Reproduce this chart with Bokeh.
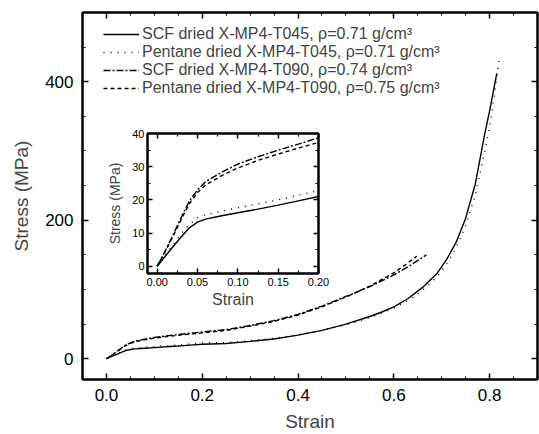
from bokeh.plotting import figure
from bokeh.models import (Range1d, FixedTicker, LinearAxis, PrintfTickFormatter,
                          Legend, LegendItem, GridBox)
from bokeh.embed import file_html
from bokeh.resources import INLINE

FONT = "Liberation Sans"

# ---- data (strain, stress MPa) ----
scf45_x = [0, 0.01, 0.02, 0.03, 0.04, 0.05, 0.06, 0.08, 0.10, 0.125, 0.15, 0.175, 0.20, 0.25, 0.30,
           0.35, 0.40, 0.45, 0.50, 0.55, 0.575, 0.60, 0.63, 0.66, 0.69, 0.71, 0.73, 0.75, 0.77, 0.79, 0.80, 0.815]
scf45_y = [0, 3.0, 6.0, 8.9, 11.6, 13.3, 14.2, 15.2, 16.1, 17.2, 18.4, 19.7, 21.0, 22.0, 25,
           28.5, 34, 41, 50, 61, 67.5, 75, 87, 103, 123, 143, 168, 203, 252, 325, 358, 412]

pen45_x = [0, 0.01, 0.02, 0.03, 0.04, 0.05, 0.06, 0.08, 0.10, 0.125, 0.15, 0.175, 0.20, 0.25, 0.30,
           0.35, 0.40, 0.45, 0.50, 0.55, 0.575, 0.60, 0.63, 0.66, 0.69, 0.71, 0.73, 0.75, 0.77, 0.79, 0.80, 0.81, 0.82]
pen45_y = [0, 3.3, 6.6, 9.8, 12.6, 14.6, 15.5, 16.6, 17.6, 18.8, 20.0, 21.4, 22.8, 23.5, 26,
           29.5, 34.5, 41, 49, 59.5, 66, 73, 84, 99, 118, 137, 160, 192, 236, 300, 335, 380, 433]

scf90_x = [0, 0.01, 0.02, 0.03, 0.04, 0.05, 0.06, 0.08, 0.10, 0.125, 0.15, 0.175, 0.20, 0.25, 0.30,
           0.35, 0.40, 0.45, 0.50, 0.55, 0.60, 0.63, 0.668]
scf90_y = [0, 4.6, 9.6, 14.8, 19.7, 23.0, 25.5, 28.3, 30.8, 33.0, 35.0, 36.8, 38.7, 42, 48,
           55, 64, 76, 90, 104, 121, 133, 150]

pen90_x = [0, 0.01, 0.02, 0.03, 0.04, 0.05, 0.06, 0.08, 0.10, 0.125, 0.15, 0.175, 0.20, 0.25, 0.30,
           0.35, 0.40, 0.45, 0.50, 0.55, 0.60, 0.625, 0.648]
pen90_y = [0, 4.4, 9.2, 14.2, 18.9, 22.2, 24.5, 27.3, 29.6, 31.9, 33.8, 35.6, 37.3, 41, 47,
           54, 63, 75, 89, 105, 124, 136, 148]

labels = ["SCF dried X-MP4-T045, \u03c1=0.71 g/cm\u00b3",
          "Pentane dried X-MP4-T045, \u03c1=0.71 g/cm\u00b3",
          "SCF dried X-MP4-T090, \u03c1=0.74 g/cm\u00b3",
          "Pentane dried X-MP4-T090, \u03c1=0.75 g/cm\u00b3"]

main_xticks = [0.0, 0.2, 0.4, 0.6, 0.8]
main_xminor = [-0.05, 0.05, 0.1, 0.15, 0.25, 0.3, 0.35, 0.45, 0.5, 0.55, 0.65, 0.7, 0.75, 0.85, 0.9]
main_yticks = [0, 200, 400]
main_yminor = [50, 100, 150, 250, 300, 350, 450, 500]

ins_xticks = [0.0, 0.05, 0.10, 0.15, 0.20]
ins_xminor = [0.025, 0.075, 0.125, 0.175]
ins_yticks = [0, 10, 20, 30, 40]
ins_yminor = [5, 15, 25, 35]

series = [(scf45_x, scf45_y, "solid"), (pen45_x, pen45_y, "1 6"),
          (scf90_x, scf90_y, "7 2 2 2"), (pen90_x, pen90_y, "4 3")]


def style_axis(ax, size, show_labels, standoff, big=True):
    ax.axis_line_width = 2
    ax.axis_line_color = "black"
    ax.major_tick_in = 6 if big else 5
    ax.major_tick_out = 0
    ax.minor_tick_in = 3
    ax.minor_tick_out = 0
    ax.major_tick_line_width = 1.5
    ax.minor_tick_line_width = 1.2
    ax.major_label_text_font = FONT
    ax.major_label_text_font_size = f"{size}px" if show_labels else "0px"
    ax.major_label_text_color = "black" if show_labels else None
    ax.major_label_standoff = standoff
    ax.axis_label_text_font = FONT
    ax.axis_label_text_font_style = "normal"


# ---- main figure ----
p = figure(width=539, height=434, output_backend="svg", toolbar_location=None,
           x_range=Range1d(-0.05, 0.9), y_range=Range1d(-30, 500),
           min_border_left=82, min_border_right=2, min_border_top=12, min_border_bottom=51)
p.grid.visible = False
p.outline_line_color = "black"
p.outline_line_width = 2

p.add_layout(LinearAxis(), "above")
p.add_layout(LinearAxis(), "right")
for ax in p.xaxis:
    ax.ticker = FixedTicker(ticks=main_xticks, minor_ticks=main_xminor)
    ax.formatter = PrintfTickFormatter(format="%.1f")
for ax in p.yaxis:
    ax.ticker = FixedTicker(ticks=main_yticks, minor_ticks=main_yminor)

style_axis(p.below[0], 17, True, 9)
style_axis(p.left[0], 17, True, 9)
style_axis(p.above[0], 17, False, 0)
style_axis(p.right[0], 17, False, 0)
p.below[0].axis_label = "Strain"
p.below[0].axis_label_text_font_size = "19px"
p.below[0].axis_label_standoff = 7
p.left[0].axis_label = "Stress (MPa)"
p.left[0].axis_label_text_font_size = "19px"
p.left[0].axis_label_standoff = 10

items = []
for (xs, ys, dash), lab in zip(series, labels):
    r = p.line(xs, ys, line_color="black", line_width=1.4, line_dash=dash)
    items.append(LegendItem(label=lab, renderers=[r]))

legend = Legend(items=items, location=(21, 282), padding=0, margin=0, spacing=0,
                glyph_width=36, glyph_height=18, label_height=18, label_standoff=3,
                label_text_font=FONT, label_text_font_size="16px",
                background_fill_alpha=0, border_line_color=None)
p.add_layout(legend)

# ---- inset ----
q = figure(width=226, height=186, output_backend="svg", toolbar_location=None,
           x_range=Range1d(-0.012, 0.2), y_range=Range1d(-2.2, 40),
           min_border_left=38, min_border_right=12, min_border_top=5, min_border_bottom=41)
q.grid.visible = False
q.outline_line_color = "black"
q.outline_line_width = 2
q.border_fill_alpha = 0
q.background_fill_color = "white"
q.add_layout(LinearAxis(), "above")
q.add_layout(LinearAxis(), "right")
for ax in q.xaxis:
    ax.ticker = FixedTicker(ticks=ins_xticks, minor_ticks=ins_xminor)
    ax.formatter = PrintfTickFormatter(format="%.2f")
for ax in q.yaxis:
    ax.ticker = FixedTicker(ticks=ins_yticks, minor_ticks=ins_yminor)
style_axis(q.below[0], 11, True, 4, big=False)
style_axis(q.left[0], 11, True, 3, big=False)
style_axis(q.above[0], 11, False, 0, big=False)
style_axis(q.right[0], 11, False, 0, big=False)
q.below[0].axis_label = "Strain"
q.below[0].axis_label_text_font_size = "16px"
q.below[0].axis_label_standoff = 2
q.left[0].axis_label = "Stress (MPa)"
q.left[0].axis_label_text_font_size = "14px"
q.left[0].axis_label_standoff = 6

for xs, ys, dash in series:
    q.line(xs, ys, line_color="black", line_width=1.4, line_dash=dash)

grid = GridBox(children=[(p, 0, 0, 3, 3), (q, 1, 1, 1, 1)],
               rows=["128px", "186px", "120px"], cols=["104px", "226px", "209px"],
               width=539, height=434)

open("out.html", "w").write(file_html(grid, INLINE))
